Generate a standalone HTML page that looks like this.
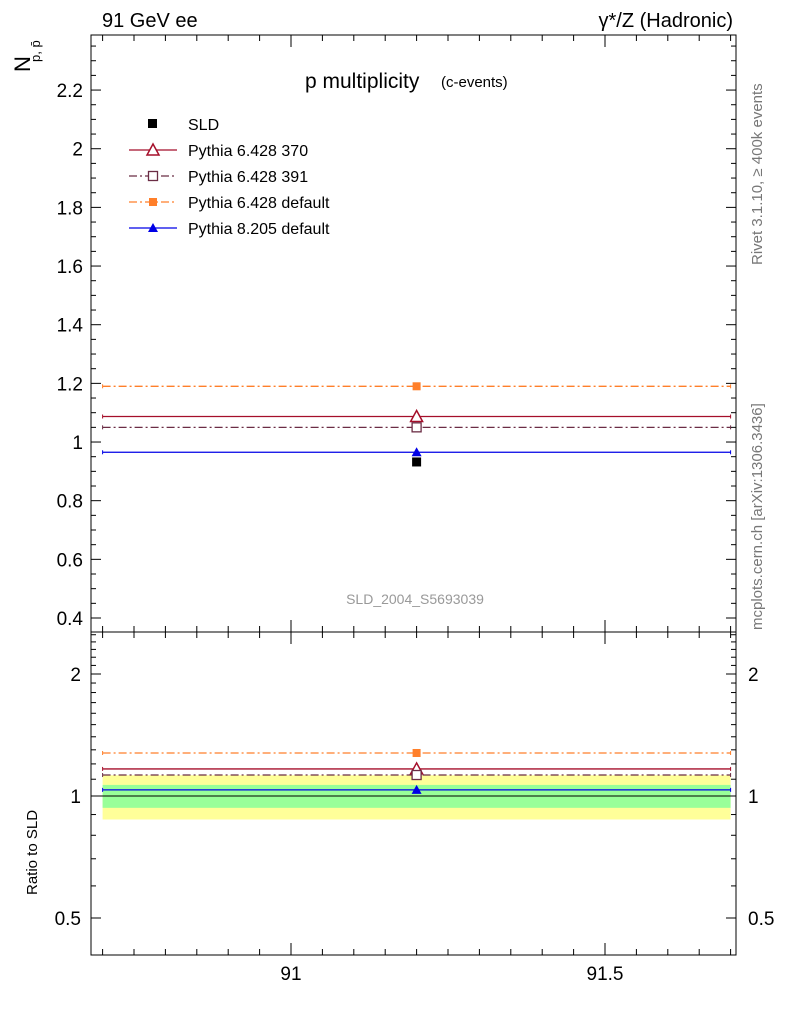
<!DOCTYPE html>
<html><head><meta charset="utf-8"><style>
body{margin:0;background:#fff;}
svg text{font-family:"Liberation Sans",sans-serif;}
</style></head><body>
<svg id="c" width="786" height="1024" xmlns="http://www.w3.org/2000/svg"></svg>
<script>
const seriesNames=["Pythia 6.428 370","Pythia 6.428 391","Pythia 6.428 default","Pythia 8.205 default"];
const seriesValues=[1.087,1.05,1.19,0.965];
const dataValue=0.932;
const dataErr=0.005;
const statRel=0.065;
const totRel=0.125;
const xBin=[90.7,91.7];
const xPoint=91.2;
const yTicks=[0.4,0.6,0.8,1,1.2,1.4,1.6,1.8,2,2.2];
const yTickLabels=["0.4","0.6","0.8","1","1.2","1.4","1.6","1.8","2","2.2"];
const rTicks=[0.5,1,2];
const rTickLabels=["0.5","1","2"];
const xTicks=[91,91.5];
const xTickLabels=["91","91.5"];

const L=91,R=736,T=35,M=632,B=955;
const X=v=>291+(v-91)*628;
const Y=v=>618-(v-0.4)*293.3;
const RY=v=>796-122*Math.log2(v);
const svg=document.getElementById('c');
const NS="http://www.w3.org/2000/svg";
function mk(tag,a,name,txt){const e=document.createElementNS(NS,tag);for(const k in a)e.setAttribute(k,a[k]);


if(txt!==undefined)e.textContent=txt;svg.appendChild(e);return e;}
const styles=[{c:"#a50f2a",d:"",m:"tri-open"},{c:"#6b2d45",d:"8,3,2,3",m:"sq-open"},{c:"#ff7f2a",d:"8,3,2,3",m:"sq"},{c:"#0000e6",d:"",m:"tri"}];
function marker(m,c,x,y,name){
 if(m==="tri-open")mk('polygon',{points:`${x},${y-6} ${x-6},${y+5} ${x+6},${y+5}`,fill:'#fff',stroke:c,'stroke-width':1.5},name);
 else if(m==="tri")mk('polygon',{points:`${x},${y-5} ${x-5},${y+4} ${x+5},${y+4}`,fill:c},name);
 else if(m==="sq-open")mk('rect',{x:x-4.5,y:y-4.5,width:9,height:9,fill:'#fff',stroke:c,'stroke-width':1.3},name);
 else mk('rect',{x:x-4,y:y-4,width:8,height:8,fill:c},name);
}
mk('rect',{x:X(xBin[0]),y:RY(1+totRel),width:X(xBin[1])-X(xBin[0]),height:RY(1-totRel)-RY(1+totRel),fill:'#ffff99'},'total-uncertainty-band');
mk('rect',{x:X(xBin[0]),y:RY(1+statRel),width:X(xBin[1])-X(xBin[0]),height:RY(1-statRel)-RY(1+statRel),fill:'#99ff99'},'stat-uncertainty-band');
mk('line',{x1:L,x2:R,y1:RY(1),y2:RY(1),stroke:'#000','stroke-width':1},'ratio-unity-line');
seriesValues.forEach((v,i)=>{const s=styles[i];
 const ys=[Y(v),RY(v/dataValue)];
 ys.forEach((y,j)=>{
  mk('line',{x1:X(xBin[0]),x2:X(xBin[1]),y1:y,y2:y,stroke:s.c,'stroke-width':1.3,'stroke-dasharray':s.d},(j?'ratio-':'')+'series-line-'+i);
  mk('line',{x1:X(xBin[0]),x2:X(xBin[0]),y1:y-2,y2:y+2,stroke:s.c},'bin-edge');
  mk('line',{x1:X(xBin[1]),x2:X(xBin[1]),y1:y-2,y2:y+2,stroke:s.c},'bin-edge');
  marker(s.m,s.c,X(xPoint),y,(j?'ratio-':'')+'series-marker-'+i);
 });
});
mk('line',{x1:X(xPoint),x2:X(xPoint),y1:Y(dataValue+dataErr),y2:Y(dataValue-dataErr),stroke:'#000'},'data-error');
mk('rect',{x:X(xPoint)-4.5,y:Y(dataValue)-4.5,width:9,height:9,fill:'#000'},'sld-data-point');
mk('rect',{x:L,y:T,width:R-L,height:M-T,fill:'none',stroke:'#000','stroke-width':1},'main-frame');
mk('rect',{x:L,y:M,width:R-L,height:B-M,fill:'none',stroke:'#000','stroke-width':1},'ratio-frame');
for(let v=0.35;v<=2.4;v+=0.05){const y=Y(v);if(y<T||y>M)continue;const maj=Math.abs((v*5)-Math.round(v*5))<1e-6;const len=maj?10:5;
 mk('line',{x1:L,x2:L+len,y1:y,y2:y,stroke:'#000'},'y-tick');mk('line',{x1:R,x2:R-len,y1:y,y2:y,stroke:'#000'},'y-tick');}
yTicks.forEach((v,i)=>mk('text',{x:L-8,y:Y(v)+7,'text-anchor':'end','font-size':19},'y-tick-label',yTickLabels[i]));
for(let v=0.3;v<=2.6;v+=0.1){const y=RY(v);if(y<M||y>B)continue;const maj=rTicks.some(t=>Math.abs(t-v)<1e-6);const len=maj?10:5;
 mk('line',{x1:L,x2:L+len,y1:y,y2:y,stroke:'#000'},'ratio-tick');mk('line',{x1:R,x2:R-len,y1:y,y2:y,stroke:'#000'},'ratio-tick');}
rTicks.forEach((v,i)=>{mk('text',{x:L-10,y:RY(v)+7,'text-anchor':'end','font-size':19},'ratio-tick-label',rTickLabels[i]);
 mk('text',{x:R+12,y:RY(v)+7,'font-size':19},'ratio-tick-label-right',rTickLabels[i]);});
for(let v=90.7;v<=91.71;v+=0.05){const x=X(v);if(x<L||x>R)continue;const maj=Math.abs(v*10-Math.round(v*10))<1e-6&&Math.abs(v*2-Math.round(v*2))<1e-6;const len=maj?12:6;
 [T,M].forEach(y0=>mk('line',{x1:x,x2:x,y1:y0,y2:y0+len,stroke:'#000'},'x-tick'));
 [M,B].forEach(y0=>mk('line',{x1:x,x2:x,y1:y0,y2:y0-len,stroke:'#000'},'x-tick'));}
xTicks.forEach((v,i)=>mk('text',{x:X(v),y:980,'text-anchor':'middle','font-size':19},'x-tick-label',xTickLabels[i]));
mk('text',{x:102,y:27,'font-size':20},'energy-label','91 GeV ee');
mk('text',{x:733,y:27,'text-anchor':'end','font-size':20},'process-label','γ*/Z (Hadronic)');
mk('text',{x:305,y:88,'font-size':21},'plot-title','p multiplicity');
mk('text',{x:441,y:87,'font-size':15},'plot-subtitle','(c-events)');
mk('text',{x:30,y:72,'font-size':22,transform:'rotate(-90 30 72)'},'y-axis-title','N');
mk('text',{x:40,y:62,'font-size':13,transform:'rotate(-90 40 62)'},'y-axis-subscript','p, p̄');
mk('text',{x:37,y:895,'font-size':15,transform:'rotate(-90 37 895)'},'ratio-axis-title','Ratio to SLD');
mk('text',{x:415,y:604,'text-anchor':'middle','font-size':14,fill:'#999'},'analysis-id','SLD_2004_S5693039');
mk('text',{x:762,y:265,'font-size':15,fill:'#777',transform:'rotate(-90 762 265)'},'rivet-label','Rivet 3.1.10, ≥ 400k events');
mk('text',{x:762,y:630,'font-size':15,fill:'#777',transform:'rotate(-90 762 630)'},'mcplots-label','mcplots.cern.ch [arXiv:1306.3436]');
mk('rect',{x:148,y:119,width:9,height:9,fill:'#000'},'legend-marker-sld');
mk('text',{x:188,y:130,'font-size':16},'legend-label-sld','SLD');
seriesNames.forEach((n,i)=>{const s=styles[i];const y=150+i*26;
 mk('line',{x1:129,x2:177,y1:y,y2:y,stroke:s.c,'stroke-width':1.3,'stroke-dasharray':s.d},'legend-line-'+i);
 marker(s.m,s.c,153,y,'legend-marker-'+i);
 mk('text',{x:188,y:y+6,'font-size':16},'legend-label-'+i,n);});
</script>
</body></html>
